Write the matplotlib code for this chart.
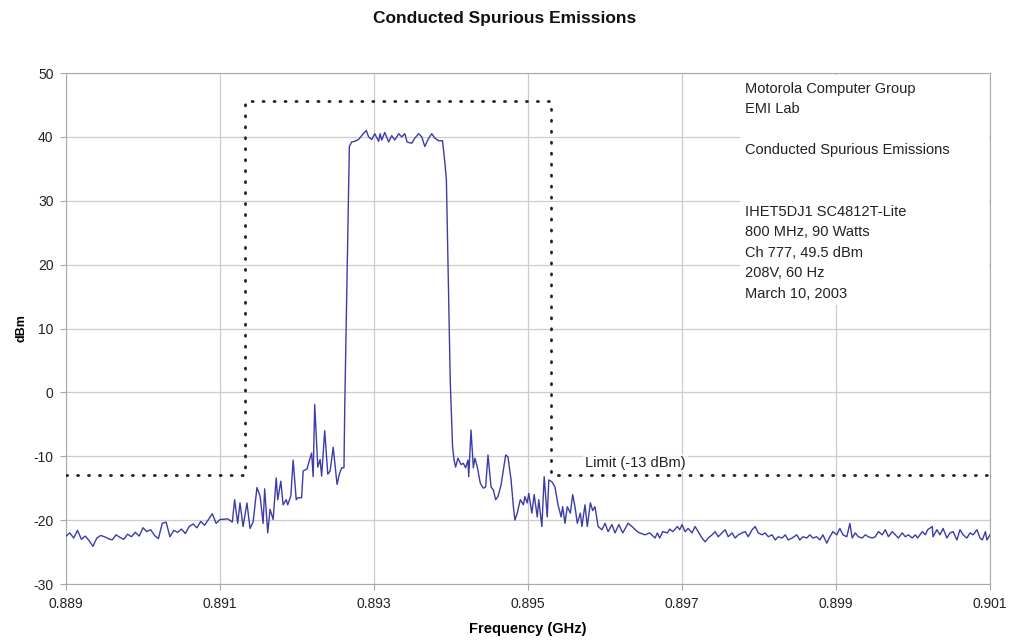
import numpy as np
import matplotlib
matplotlib.use('Agg')
import matplotlib.pyplot as plt
from matplotlib.patches import Rectangle

plt.rcParams['font.family'] = ['Liberation Sans', 'DejaVu Sans']
plt.rcParams['axes.unicode_minus'] = False

# spectrum trace, frequency in GHz, level in dBm
f_left = [0.88900, 0.88905, 0.88910, 0.88915, 0.88920, 0.88925, 0.88930, 0.88935,
          0.88940, 0.88945, 0.88950, 0.88955, 0.88960, 0.88965, 0.88970, 0.88975,
          0.88980, 0.88985, 0.88990, 0.88995, 0.89000, 0.89005, 0.89010, 0.89015,
          0.89020, 0.89025, 0.89030, 0.89035, 0.89040, 0.89045, 0.89050, 0.89055,
          0.89060, 0.89065, 0.89070, 0.89075, 0.89080, 0.89085, 0.89090, 0.89095,
          0.89100]
db_left = [-22.5, -22.0, -22.8, -21.6, -23.0, -22.5, -23.2, -24.1,
           -22.8, -22.4, -22.6, -22.9, -23.1, -22.3, -22.7, -23.0,
           -22.2, -22.6, -21.9, -22.5, -21.2, -21.8, -21.5, -22.4,
           -22.9, -20.5, -20.3, -22.6, -21.6, -21.9, -21.4, -22.1,
           -21.0, -20.6, -21.2, -20.2, -20.8, -19.9, -19.0, -20.5,
           -19.9]

f_skirt_lo = [0.89110, 0.89116, 0.89119, 0.89123, 0.89126, 0.89130, 0.89135, 0.89139,
              0.89143, 0.89148, 0.89152, 0.89156, 0.89158, 0.89162, 0.89165, 0.89169,
              0.89173, 0.89175, 0.89179, 0.89182, 0.89186, 0.89188, 0.89192, 0.89195,
              0.89199, 0.89201, 0.89206, 0.89208, 0.89213, 0.89216, 0.89219, 0.89221,
              0.89223, 0.89227, 0.89230, 0.89232, 0.89236, 0.89240, 0.89243, 0.89247,
              0.89252, 0.89255, 0.89258, 0.89261, 0.89262, 0.89265, 0.89268]
db_skirt_lo = [-19.8, -20.3, -16.8, -20.5, -17.3, -21.0, -17.3, -21.3,
               -20.3, -14.9, -16.2, -20.5, -15.1, -22.0, -18.3, -19.9,
               -13.4, -16.8, -13.9, -17.6, -16.8, -17.6, -16.2, -10.6,
               -16.8, -16.5, -16.5, -12.3, -12.0, -10.7, -9.5, -13.2,
               -1.9, -11.7, -10.5, -13.1, -6.0, -12.8, -12.3, -8.6,
               -14.4, -12.8, -11.8, -11.8, -2.3, 18.0, 38.5]

f_top = [0.89271, 0.89275, 0.89280, 0.89286, 0.89290, 0.89293, 0.89297, 0.89301,
         0.89306, 0.89308, 0.89310, 0.89314, 0.89319, 0.89323, 0.89327, 0.89332,
         0.89336, 0.89340, 0.89343, 0.89349, 0.89353, 0.89358, 0.89362, 0.89366,
         0.89371, 0.89375, 0.89379, 0.89384, 0.89389, 0.89392, 0.89394, 0.89399,
         0.89402]
db_top = [39.2, 39.3, 39.6, 40.5, 41.0, 40.0, 39.6, 40.5,
          39.3, 40.5, 39.5, 40.7, 39.2, 40.2, 39.5, 40.5,
          40.0, 40.5, 39.2, 39.0, 39.8, 40.5, 40.0, 38.5,
          39.8, 40.5, 39.8, 39.4, 39.4, 36.0, 33.3, 1.9,
          -8.5]

f_skirt_hi = [0.89404, 0.89406, 0.89409, 0.89413, 0.89416, 0.89419, 0.89422, 0.89423,
              0.89426, 0.89429, 0.89431, 0.89434, 0.89438, 0.89442, 0.89445, 0.89448,
              0.89452, 0.89455, 0.89458, 0.89461, 0.89465, 0.89468, 0.89471, 0.89474,
              0.89478, 0.89481, 0.89483, 0.89486, 0.89490, 0.89494, 0.89496, 0.89499,
              0.89501, 0.89505, 0.89508, 0.89512, 0.89514, 0.89518, 0.89521, 0.89525,
              0.89527, 0.89531, 0.89535, 0.89539, 0.89543, 0.89545, 0.89548, 0.89551,
              0.89555, 0.89558, 0.89561, 0.89564, 0.89568, 0.89570, 0.89574, 0.89577,
              0.89581, 0.89584, 0.89587, 0.89591]
db_skirt_hi = [-10.6, -11.7, -10.3, -11.3, -11.1, -11.8, -10.6, -13.2,
               -5.9, -11.8, -10.3, -11.6, -14.2, -15.0, -14.8, -9.8,
               -14.8, -15.3, -16.8, -16.3, -14.5, -12.1, -9.8, -10.1,
               -13.7, -17.9, -20.0, -18.9, -16.8, -17.6, -16.3, -17.3,
               -15.8, -18.9, -16.0, -19.5, -16.8, -21.0, -13.2, -19.5,
               -13.7, -14.0, -14.8, -17.6, -19.5, -17.9, -20.5, -17.9,
               -18.9, -16.0, -17.9, -20.5, -18.9, -21.0, -17.6, -21.0,
               -17.3, -18.5, -17.9, -21.0]

f_right = [0.89596, 0.89600, 0.89604, 0.89609, 0.89613, 0.89618, 0.89623, 0.89630,
           0.89635, 0.89642, 0.89645, 0.89652, 0.89658, 0.89665, 0.89668, 0.89671,
           0.89675, 0.89681, 0.89684, 0.89688, 0.89694, 0.89697, 0.89700, 0.89704,
           0.89708, 0.89713, 0.89717, 0.89721, 0.89726, 0.89730, 0.89734, 0.89739,
           0.89743, 0.89747, 0.89752, 0.89756, 0.89760, 0.89765, 0.89769, 0.89773,
           0.89778, 0.89782, 0.89786, 0.89791, 0.89795, 0.89799, 0.89804, 0.89808,
           0.89812, 0.89817, 0.89821, 0.89825, 0.89830, 0.89834, 0.89838, 0.89843,
           0.89849, 0.89853, 0.89857, 0.89862, 0.89866, 0.89870, 0.89875, 0.89879,
           0.89883, 0.89888, 0.89892, 0.89896, 0.89901, 0.89905, 0.89909, 0.89914,
           0.89918, 0.89921, 0.89925, 0.89929, 0.89934, 0.89938, 0.89942, 0.89947,
           0.89951, 0.89955, 0.89960, 0.89964, 0.89968, 0.89973, 0.89977, 0.89981,
           0.89986, 0.89990, 0.89994, 0.89999, 0.90003, 0.90006, 0.90012, 0.90016,
           0.90019, 0.90025, 0.90026, 0.90031, 0.90035, 0.90039, 0.90044, 0.90048,
           0.90052, 0.90057, 0.90061, 0.90065, 0.90070, 0.90074, 0.90078, 0.90083,
           0.90087, 0.90090, 0.90094, 0.90096, 0.90100]
db_right = [-21.5, -20.5, -21.8, -20.7, -22.0, -20.7, -22.0, -20.5,
            -21.0, -21.8, -22.0, -22.3, -22.0, -22.8, -22.0, -22.8,
            -21.8, -22.0, -21.4, -21.8, -21.0, -21.5, -20.7, -21.8,
            -21.3, -22.0, -21.0, -21.8, -22.8, -23.4, -22.8, -22.3,
            -21.8, -22.6, -22.0, -21.5, -22.6, -22.0, -22.8, -22.3,
            -22.0, -21.8, -22.6, -21.5, -21.0, -22.0, -22.3, -22.0,
            -22.6, -22.3, -23.1, -22.6, -22.8, -22.3, -23.1, -22.8,
            -22.3, -23.1, -22.6, -22.8, -22.3, -22.8, -22.6, -23.1,
            -22.3, -23.6, -22.6, -21.8, -22.3, -21.3, -22.3, -22.6,
            -20.5, -22.8, -22.0, -22.6, -22.8, -22.3, -22.6, -22.8,
            -22.6, -21.8, -22.3, -21.5, -22.6, -21.8, -22.3, -22.8,
            -22.0, -22.6, -22.3, -22.8, -22.3, -22.8, -21.8, -22.3,
            -21.5, -21.0, -22.6, -21.5, -22.3, -21.3, -22.8, -22.0,
            -21.8, -23.1, -21.5, -22.3, -22.8, -22.0, -22.3, -21.5,
            -22.8, -23.1, -21.8, -23.1, -22.3]

# limit mask
limit_f = [0.889, 0.89133, 0.89133, 0.89530, 0.89530, 0.901]
limit_db = [-13, -13, 45.6, 45.6, -13, -13]

x_ticks = [0.889, 0.891, 0.893, 0.895, 0.897, 0.899, 0.901]
y_ticks = [-30, -20, -10, 0, 10, 20, 30, 40, 50]

info = ("Motorola Computer Group\nEMI Lab\n\nConducted Spurious Emissions\n\n\n"
        "IHET5DJ1 SC4812T-Lite\n800 MHz, 90 Watts\nCh 777, 49.5 dBm\n"
        "208V, 60 Hz\nMarch 10, 2003")

freq = np.concatenate([f_left, f_skirt_lo, f_top, f_skirt_hi, f_right])
level = np.concatenate([db_left, db_skirt_lo, db_top, db_skirt_hi, db_right])

fig = plt.figure(figsize=(10.09, 6.41), dpi=100)
ax = fig.add_axes([0.0654, 0.0889, 0.9158, 0.7972])

ax.set_xlim(0.889, 0.901)
ax.set_ylim(-30, 50)
ax.set_xticks(x_ticks)
ax.set_xticklabels(['%.3f' % t for t in x_ticks])
ax.set_yticks(y_ticks)
ax.grid(True, color='#cccccc', linewidth=0.9, zorder=0)
ax.set_axisbelow(True)
for s in ax.spines.values():
    s.set_color('#a8a8a8')
ax.tick_params(direction='out', length=4, color='#a8a8a8', labelsize=10,
               labelcolor='#222222', pad=5)

# white box behind the info text hides the grid
ax.add_patch(Rectangle((0.729, 0.546), 0.27, 0.451, transform=ax.transAxes,
                       facecolor='white', edgecolor='none', zorder=1))

ax.plot(freq, level, color='#3c3ca8', linewidth=1.0, zorder=3)
ax.plot(limit_f, limit_db, color='#222222', linewidth=2.0,
        linestyle=(0, (0.4, 3.55)), dash_capstyle='round', zorder=4)

ax.text(0.735, 0.983, info, transform=ax.transAxes, ha='left', va='top',
        fontsize=10.5, linespacing=1.59, color='#222222', zorder=5)
ax.text(0.562, 0.237, 'Limit (-13 dBm)', transform=ax.transAxes, ha='left',
        va='center', fontsize=10.5, color='#222222', zorder=5,
        bbox=dict(facecolor='white', edgecolor='none', alpha=0.7, pad=1.5))

fig.suptitle('Conducted Spurious Emissions', y=0.983, fontsize=12.5,
             fontweight='bold', color='#111111')
ax.set_xlabel('Frequency (GHz)', fontsize=10.5, fontweight='bold', labelpad=8)
ax.set_ylabel('dBm', fontsize=9, fontweight='bold', labelpad=4)

fig.savefig('out.png', dpi=100)
